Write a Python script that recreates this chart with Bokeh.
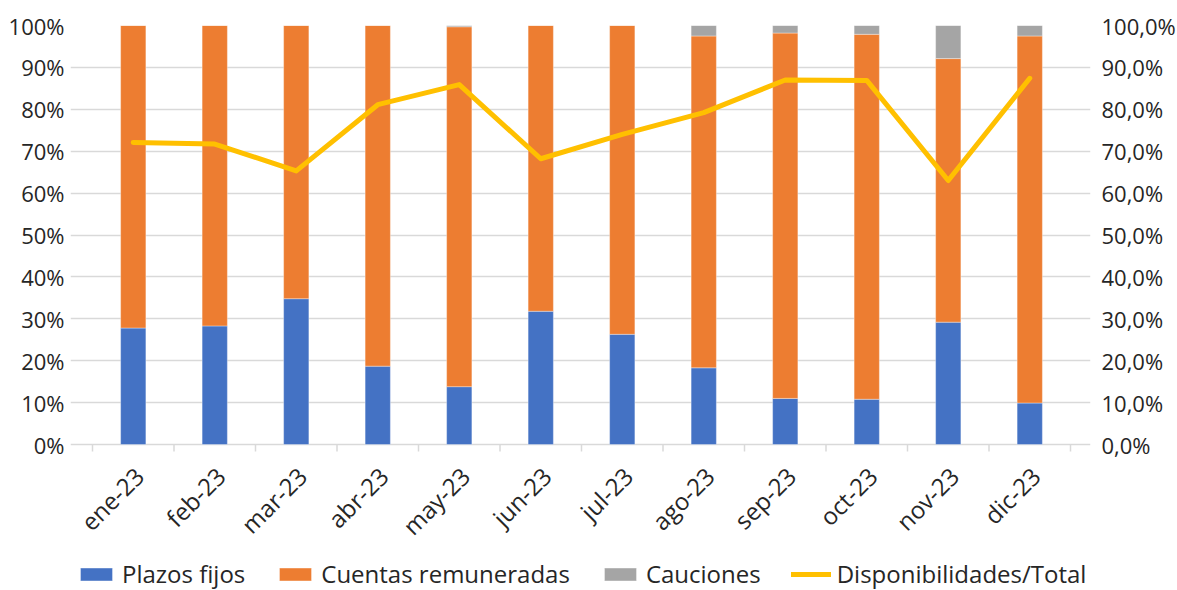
from bokeh.plotting import figure
from bokeh.models import (ColumnDataSource, Range1d, LinearAxis, FixedTicker,
                          NumeralTickFormatter, CustomJSTickFormatter, Legend, LegendItem)
from bokeh.core.properties import value
from bokeh.embed import file_html
from bokeh.resources import INLINE
import math

months = ["ene-23", "feb-23", "mar-23", "abr-23", "may-23", "jun-23",
          "jul-23", "ago-23", "sep-23", "oct-23", "nov-23", "dic-23"]
plazos_fijos = [27.8, 28.3, 34.8, 18.7, 13.8, 31.8, 26.3, 18.3, 11.0, 10.8, 29.2, 9.9]
cauciones = [0.0, 0.0, 0.0, 0.0, 0.3, 0.0, 0.0, 2.5, 1.8, 2.1, 7.9, 2.5]
cuentas_remuneradas = [round(100 - a - c, 1) for a, c in zip(plazos_fijos, cauciones)]
disponibilidades_total = [72.1, 71.7, 65.3, 81.1, 85.9, 68.2, 74.0, 79.2, 87.0, 86.9, 63.0, 87.4]

FONT = "Open Sans"
FS = "22px"
TXT = "#262626"

# layout (pixels)
TOP, RIGHT = 25, 85
PLOT_H = 419          # height of 0..100 %
BELOW = 146           # space under the 0 line (labels + legend) kept inside the frame
CAT_W = 81.5          # pixels per category
EXT_L, EXT_R = 22, 20 # frame extends beyond the category area (for labels/legend)
LEFT = 92 - EXT_L
n = len(months)
ybot = -BELOW / PLOT_H
xl = -0.5 - EXT_L / CAT_W
xr = n - 0.5 + EXT_R / CAT_W

x = list(range(n))
pf = [v / 100 for v in plazos_fijos]
cr = [v / 100 for v in cuentas_remuneradas]
ca = [v / 100 for v in cauciones]
dt = [v / 100 for v in disponibilidades_total]

src = ColumnDataSource(dict(x=x, pf=pf, cr=cr, ca=ca, dt=dt, lab=months, zero=[0] * n))

p = figure(frame_width=round(n * CAT_W) + EXT_L + EXT_R, frame_height=PLOT_H + BELOW,
           output_backend="svg", toolbar_location=None,
           x_range=Range1d(xl, xr), y_range=Range1d(ybot, 1),
           min_border_left=LEFT, min_border_right=RIGHT, min_border_top=TOP, min_border_bottom=0)
p.extra_y_ranges = {"right": Range1d(ybot, 1)}
p.outline_line_color = None
p.background_fill_color = "white"
p.border_fill_color = "white"

yt = [i / 10 for i in range(11)]
p.xgrid.grid_line_color = None
p.ygrid.grid_line_color = "#d9d9d9"
p.ygrid.grid_line_width = 1.5
p.ygrid.ticker = FixedTicker(ticks=yt)
p.ygrid.bounds = (-0.5, n - 0.5)

# category boundary tick marks under the 0 line
bounds = [i - 0.5 for i in range(n + 1)]
p.segment(x0=bounds, y0=[0] * len(bounds), x1=bounds, y1=[-7 / PLOT_H] * len(bounds),
          line_color="#d9d9d9", line_width=1.5)

bw = 0.31
r_pf = p.vbar_stack(["pf", "cr", "ca"], x="x", width=bw, source=src,
                    color=["#4472C4", "#ED7D31", "#A5A5A5"],
                    line_color="white", line_width=0.6, line_alpha=0.6)
r_line = p.line("x", "dt", source=src, y_range_name="right", line_color="#FFC000",
                line_width=5, line_join="round", line_cap="round")

# category labels, rotated 45 degrees
p.text(x="x", y="zero", text="lab", source=src, angle=math.pi / 4,
       text_align="right", text_baseline="middle", x_offset=6, y_offset=27,
       text_font=value(FONT), text_font_size="24px", text_color=TXT)

p.xaxis.visible = False

p.yaxis.ticker = FixedTicker(ticks=yt)
p.yaxis.formatter = NumeralTickFormatter(format="0%")
p.yaxis.axis_line_color = None
p.yaxis.major_tick_line_color = None
p.yaxis.minor_tick_line_color = None
p.yaxis.major_label_text_font = FONT
p.yaxis.major_label_text_font_size = FS
p.yaxis.major_label_text_color = TXT
p.yaxis.major_label_standoff = 0

ra = LinearAxis(y_range_name="right", ticker=FixedTicker(ticks=yt),
                formatter=CustomJSTickFormatter(code="return (tick*100).toFixed(1).replace('.', ',') + '%';"))
ra.axis_line_color = None
ra.major_tick_line_color = None
ra.minor_tick_line_color = None
ra.major_label_text_font = FONT
ra.major_label_text_font_size = FS
ra.major_label_text_color = TXT
ra.major_label_standoff = 5
p.add_layout(ra, "right")

legend = Legend(items=[
    LegendItem(label="Plazos fijos", renderers=[r_pf[0]]),
    LegendItem(label="Cuentas remuneradas", renderers=[r_pf[1]]),
    LegendItem(label="Cauciones", renderers=[r_pf[2]]),
    LegendItem(label="Disponibilidades/Total", renderers=[r_line]),
], orientation="horizontal", location=(6, 0))
legend.label_text_font = FONT
legend.label_text_font_size = "24px"
legend.label_text_color = TXT
legend.glyph_width = 40
legend.glyph_height = 16
legend.spacing = 30
legend.label_standoff = 6
legend.border_line_color = None
legend.background_fill_alpha = 0
legend.padding = 2
legend.margin = 0
p.add_layout(legend, "center")

open("out.html", "w").write(file_html(p, INLINE))
